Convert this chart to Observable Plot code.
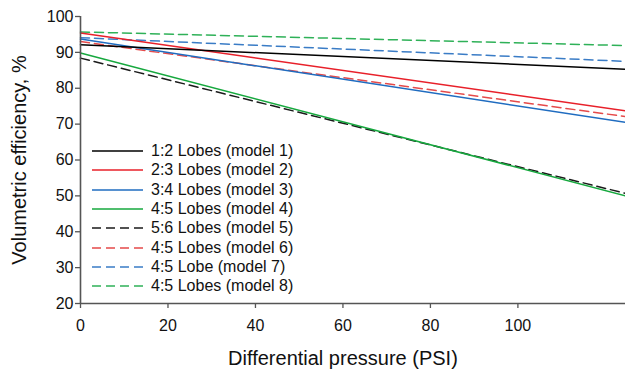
<!DOCTYPE html>
<html>
<head>
<meta charset="utf-8">
<script src="https://cdn.jsdelivr.net/npm/d3@7"></script>
<script src="https://cdn.jsdelivr.net/npm/@observablehq/plot@0.6"></script>
<style>
  html, body { margin: 0; padding: 0; background: #fff; }
  #wrap { position: relative; width: 625px; height: 376px; font-family: "Liberation Sans", Arial, sans-serif; }
  #legend { position: absolute; left: 92px; top: 141.5px; font-size: 16px; color: #111; }
  .row { display: flex; align-items: center; height: 19.3px; }
  .row svg { margin-right: 8px; }
</style>
</head>
<body>
<div id="wrap"><div id="legend"></div></div>
<script>
// ---- data ----
const seriesNames = [
  "1:2 Lobes (model 1)", "2:3 Lobes (model 2)", "3:4 Lobes (model 3)", "4:5 Lobes (model 4)",
  "5:6 Lobes (model 5)", "4:5 Lobes (model 6)", "4:5 Lobe (model 7)", "4:5 Lobes (model 8)"
];
const seriesColors = ["#000000", "#e8202a", "#1f6cc0", "#16a83e", "#1a1a1a", "#e54a4a", "#3a7cc6", "#2fb158"];
const seriesDashed = [false, false, false, false, true, true, true, true];
const pressureStart = 0;
const pressureEnd = 124.6;
const efficiencyStart = [92.1, 95.4, 93.7, 89.8, 88.4, 93.0, 94.1, 95.7];
const efficiencyEnd   = [85.3, 73.7, 70.5, 50.0, 50.7, 72.1, 87.5, 91.9];
const xTicks = [0, 20, 40, 60, 80, 100];
const yTicks = [20, 30, 40, 50, 60, 70, 80, 90, 100];

const rows = [];
seriesNames.forEach((name, i) => {
  rows.push({name, i, x: pressureStart, y: efficiencyStart[i]});
  rows.push({name, i, x: pressureEnd, y: efficiencyEnd[i]});
});

const lineMarks = seriesNames.map((name, i) =>
  Plot.line(rows.filter(d => d.i === i), {
    x: "x", y: "y",
    stroke: seriesColors[i],
    strokeWidth: 1.5,
    strokeDasharray: seriesDashed[i] ? "9,5" : null
  })
).reverse();

const axisColor = "#555";
const chart = Plot.plot({
  width: 625,
  height: 376,
  marginLeft: 80,
  marginRight: 0,
  marginTop: 16,
  marginBottom: 73,
  style: {fontFamily: "'Liberation Sans', Arial, sans-serif", background: "transparent", overflow: "visible"},
  x: {domain: [0, pressureEnd], ticks: xTicks},
  y: {domain: [20, 100], ticks: yTicks},
  marks: [
    ...lineMarks,
    Plot.ruleX([0], {stroke: axisColor, strokeWidth: 1.6}),
    Plot.ruleY([20], {stroke: axisColor, strokeWidth: 1.6}),
    Plot.axisY({ticks: yTicks, tickSize: 5, tickPadding: 2, fontSize: 16, stroke: axisColor, fill: "#111", strokeWidth: 1.3, label: null}),
    Plot.axisX({ticks: xTicks, tickSize: 5, tickPadding: 11, fontSize: 16, stroke: axisColor, fill: "#111", strokeWidth: 1.3, label: null}),
    Plot.text(["Volumetric efficiency, %"], {frameAnchor: "left", dx: -61, rotate: -90, textAnchor: "middle", fontSize: 20, fill: "#111"}),
    Plot.text(["Differential pressure (PSI)"], {x: 60, frameAnchor: "bottom", dy: 61, fontSize: 20, fill: "#111"})
  ]
});
document.getElementById("wrap").prepend(chart);

// legend
const legend = document.getElementById("legend");
seriesNames.forEach((name, i) => {
  const row = document.createElement("div");
  row.className = "row";
  row.innerHTML = `<svg width="51" height="4"><line x1="0" y1="2" x2="51" y2="2" stroke="${seriesColors[i]}" stroke-width="1.5" ${seriesDashed[i] ? 'stroke-dasharray="9,5"' : ''}/></svg><span>${name}</span>`;
  legend.appendChild(row);
});
</script>
</body>
</html>
